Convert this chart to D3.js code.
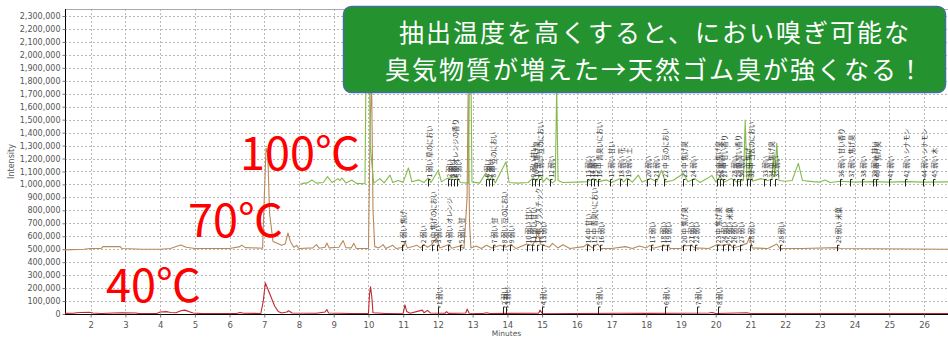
<!DOCTYPE html>
<html><head><meta charset="utf-8">
<script src="https://cdn.jsdelivr.net/npm/d3@7"></script>
<style>
html,body{margin:0;padding:0;background:#fff;}
svg{display:block;}
</style></head>
<body>
<svg id="chart" width="948" height="338"></svg>
<script>
// ---- data (intensity values in thousands) ----
const xTicks = [2,3,4,5,6,7,8,9,10,11,12,13,14,15,16,17,18,19,20,21,22,23,24,25,26];
const yTicks = [0,100,200,300,400,500,600,700,800,900,1000,1100,1200,1300,1400,1500,1600,1700,1800,1900,2000,2100,2200,2300];
const yTickLabels = ["0","100,000","200,000","300,000","400,000","500,000","600,000","700,000","800,000","900,000","1,000,000","1,100,000","1,200,000","1,300,000","1,400,000","1,500,000","1,600,000","1,700,000","1,800,000","1,900,000","2,000,000","2,100,000","2,200,000","2,300,000"];

// 100℃ trace
const t100 = [8.02,8.1,8.25,8.37,8.5,8.7,8.82,8.95,9.12,9.18,9.23,9.35,9.52,9.65,9.9,9.95,10.0,10.05,10.15,10.33,10.45,10.62,10.7,10.85,11.0,11.15,11.25,11.45,11.6,11.72,11.8,12.01,12.1,12.25,12.54,12.65,12.88,12.93,12.98,13.2,13.38,13.47,13.55,13.65,13.96,14.05,14.3,14.6,14.74,14.84,14.94,15.04,15.13,15.3,15.38,15.42,15.46,15.6,16.0,16.3,16.48,16.6,16.86,17.0,17.25,17.35,17.45,17.6,17.77,17.88,18.12,18.3,18.44,18.55,18.77,19.07,19.2,19.4,19.55,19.75,19.89,20.0,20.12,20.25,20.45,20.6,20.8,20.85,20.9,20.95,20.99,21.05,21.3,21.5,21.62,21.66,21.7,21.76,21.82,22.0,22.2,22.38,22.5,22.8,23.0,23.15,23.3,23.6,24.0,24.5,25.0,25.5,26.0,26.7];
const v100 = [1000,1008,1012,1034,1010,1015,1060,1015,1045,1030,1050,1012,1034,1008,1005,2500,2600,1300,1010,1045,1012,1072,1015,1030,1018,1127,1020,1035,1015,1050,1015,1110,1020,1045,1060,1015,1010,2500,1020,1010,1088,1030,1060,1012,1175,1015,1010,1015,1050,1025,1075,1020,1050,1012,1030,1750,1030,1015,1018,1022,1045,1020,1035,1015,1045,1020,1048,1018,1072,1018,1045,1020,1110,1020,1030,1085,1020,1045,1015,1045,1070,1020,1060,1018,1045,1020,1030,1497,1030,1040,1291,1025,1045,1030,1040,1214,1060,1317,1030,1025,1030,1163,1030,1022,1018,1035,1015,1025,1018,1022,1018,1022,1018,1020];

// 70℃ trace
const t70 = [1.26,1.8,2.0,2.3,2.35,2.85,2.9,3.5,4.0,4.3,4.5,4.6,4.75,5.0,6.0,6.3,6.35,6.45,6.95,7.0,7.05,7.1,7.15,7.25,7.35,7.5,7.6,7.68,7.75,7.85,7.93,8.0,8.4,8.5,8.58,8.75,8.8,8.87,9.15,9.27,9.35,9.5,9.58,9.65,10.0,10.05,10.09,10.13,10.18,10.3,10.42,10.5,10.7,10.8,11.0,11.05,11.12,11.4,11.5,11.6,11.7,11.8,11.96,12.05,12.3,12.4,12.63,12.75,12.84,12.87,12.91,12.95,13.1,13.25,13.4,13.55,13.8,13.95,14.1,14.25,14.56,14.7,14.8,14.88,14.95,15.1,15.2,15.3,15.45,15.6,15.8,16.2,16.3,16.45,16.6,16.7,17.0,17.4,17.6,17.8,18.0,18.1,18.2,18.45,18.6,18.7,19.0,19.07,19.3,19.4,19.8,20.03,20.2,20.4,20.5,20.7,20.9,20.98,21.05,21.5,21.76,21.85,22.5,23.5,23.6,26.7];
const v70 = [495,500,505,505,520,520,505,500,500,505,525,532,515,505,505,520,532,512,508,900,1280,1240,780,560,548,530,540,625,560,515,530,505,510,535,508,515,548,510,515,566,512,510,545,505,505,1500,1800,800,520,510,535,505,530,505,515,558,510,530,510,535,515,530,586,510,535,508,525,505,900,1700,700,510,525,505,530,510,530,515,535,505,540,530,560,650,540,525,515,545,510,535,505,520,540,510,540,505,505,520,505,525,510,530,508,525,530,505,505,525,530,510,505,535,530,540,510,525,545,597,510,505,540,505,505,512,505,500];

// 40℃ trace
const t40 = [1.26,1.5,1.6,1.75,1.95,2.07,2.3,2.65,2.9,3.3,3.4,3.9,4.0,4.2,4.3,4.45,4.6,4.7,4.8,4.95,5.2,5.5,6.2,6.3,6.4,6.9,6.97,7.03,7.15,7.3,7.4,7.5,7.65,7.7,7.8,8.5,8.75,8.8,8.85,9.5,10.0,10.03,10.06,10.1,10.13,10.5,11.0,11.05,11.1,11.2,11.55,11.6,11.7,11.78,12.2,12.25,12.3,12.8,12.84,12.9,13.3,13.4,13.5,14.9,14.94,15.0,16.0,17.2,18.0,19.8,19.9,20.0,20.9,21.0,26.7];
const v40 = [5,6,10,12,14,8,4,8,9,8,3,4,15,18,12,10,25,30,22,8,3,4,4,12,6,4,100,240,160,60,20,8,15,25,8,6,15,35,8,4,5,150,210,120,10,4,6,70,20,6,30,10,28,8,6,18,5,8,38,6,4,10,4,6,30,6,4,6,5,8,12,4,10,4,4];

// peak annotations: [minutes, label]
const ann100 = [[11.72,"1 弱い 草のにおい"],[12.30,"2 弱い"],[12.38,"3 弱い"],[12.47,"4 中 オレンジの香り"],[12.56,"5 弱い"],[13.38,"6 弱い"],[13.47,"7 弱い"],[13.56,"8 中 豆のにおい"],[14.70,"9 弱い 甘い"],[14.80,"10 中 焦げ臭"],[14.90,"11 弱い 豆のにおい"],[15.22,"12 弱い"],[16.30,"13 弱い"],[16.40,"14 弱い"],[16.50,"15 中"],[16.62,"16 中 青臭いにおい"],[16.95,"17 弱い 甘い"],[17.25,"18 弱い 花"],[17.45,"19 弱い 土"],[18.01,"20 弱い"],[18.25,"21 弱い"],[18.50,"22 中 豆のにおい"],[19.07,"23 中 焦げ臭"],[19.33,"24 弱い"],[20.03,"25 中 焦げ臭"],[20.12,"26 弱い"],[20.22,"27 中 甘い香り"],[20.50,"28 弱い"],[20.60,"29 中 甘い香り"],[20.70,"30 弱い"],[20.90,"31 中 焦げ"],[21.00,"32 中 ゴムのにおい"],[21.40,"33 弱い"],[21.55,"34 中 焦げ臭"],[21.70,"35 弱い"],[23.58,"36 弱い 甘い香り"],[23.87,"37 弱い 焦げ臭"],[24.20,"38 弱い"],[24.53,"39 弱い 甘い"],[24.62,"40 中 焦げ臭"],[25.00,"41 弱い"],[25.45,"42 弱い シナモン"],[25.97,"44 弱い シナモン"],[26.26,"45 弱い 木"]];
const ann70 = [[10.96,"1 弱い 焦げ"],[11.53,"2 弱い"],[11.82,"3 中 焦げのにおい"],[11.97,"3 弱い"],[12.30,"4 弱い オレンジ"],[12.64,"5 弱い 甘"],[13.60,"7 弱い 甘"],[13.88,"8 弱い 豆のにおい"],[14.08,"9 弱い"],[14.56,"10 弱い 甘い"],[14.70,"11 弱い 甘い"],[14.85,"12 中 プラスチック"],[14.99,"13 弱い"],[16.29,"14 中 甘い"],[16.48,"15 中 青臭いにおい"],[16.68,"16 弱い"],[18.15,"17 弱い"],[18.44,"18 弱い"],[18.59,"19 弱い"],[19.07,"20 中 焦げ臭"],[19.26,"21 弱い"],[19.40,"22 弱い"],[20.03,"23 中 焦げ臭"],[20.22,"24 弱い"],[20.36,"25 弱い 米菓"],[20.50,"26 弱い"],[20.70,"27 弱い"],[20.98,"28 弱い"],[21.85,"28 弱い"],[23.49,"29 弱い 米菓"]];
const ann40 = [[12.00,"1 弱い"],[13.87,"2 弱い"],[13.95,"3 弱い"],[14.99,"4 弱い"],[16.60,"5 弱い"],[18.54,"6 弱い"],[19.46,"7 弱い"],[20.07,"8 弱い"]];

const titleLines = ["抽出温度を高くすると、におい嗅ぎ可能な","臭気物質が増えた→天然ゴム臭が強くなる！"];
const tempLabels = ["100℃","70℃","40℃"];

// ---- layout ----
const L = 65, R = 948, T = 9, B = 314;
const svg = d3.select("#chart");
const x = d3.scaleLinear().domain([1.26, 26.69]).range([L, R]);
const y = d3.scaleLinear().domain([0, 2300000]).range([B, 16]);

svg.append("defs").append("clipPath").attr("id","plotclip")
  .append("rect").attr("x",L).attr("y",T).attr("width",R-L).attr("height",B-T);

// grid
const grid = svg.append("g");
grid.selectAll(".hg").data(yTicks.slice(1)).join("line")
  .attr("x1",L).attr("x2",R).attr("y1",d=>Math.round(y(d*1000))+0.5).attr("y2",d=>Math.round(y(d*1000))+0.5)
  .attr("stroke","#b8b8b8").attr("stroke-width",1).attr("stroke-dasharray","2,2");
grid.selectAll(".vg").data(xTicks).join("line")
  .attr("x1",d=>Math.round(x(d))+0.5).attr("x2",d=>Math.round(x(d))+0.5).attr("y1",T).attr("y2",B)
  .attr("stroke","#b8b8b8").attr("stroke-width",1).attr("stroke-dasharray","2,2");
svg.append("line").attr("x1",L).attr("x2",R).attr("y1",T+0.5).attr("y2",T+0.5).attr("stroke","#aaa");

// axes
const yAxis = d3.axisLeft(y).tickValues(yTicks.map(d=>d*1000)).tickFormat((d,i)=>yTickLabels[i]).tickSize(3).tickPadding(2);
const gy = svg.append("g").attr("transform",`translate(${L+0.5},0)`).call(yAxis);
gy.select(".domain").attr("stroke","#000").attr("d",`M0,${T}V${B}`);
gy.selectAll(".tick line").attr("stroke","#777");
gy.selectAll("text").attr("font-family","DejaVu Sans, Verdana, sans-serif").attr("font-size","8px").attr("fill","#555");

const xAxis = d3.axisBottom(x).tickValues(xTicks).tickFormat(d=>d).tickSize(3).tickPadding(4);
const gx = svg.append("g").attr("transform",`translate(0,${B+0.5})`).call(xAxis);
gx.select(".domain").attr("stroke","#000").attr("d",`M${L},0H${R}`);
gx.selectAll(".tick line").attr("stroke","#777");
gx.selectAll("text").attr("font-family","DejaVu Sans, Verdana, sans-serif").attr("font-size","8.5px").attr("fill","#555");

svg.append("text").attr("x",(L+R)/2).attr("y",336).attr("text-anchor","middle")
  .attr("font-family","DejaVu Sans, Verdana, sans-serif").attr("font-size","7.5px").attr("fill","#555").text("Minutes");
svg.append("text").attr("transform",`translate(14,${(T+B)/2}) rotate(-90)`).attr("text-anchor","middle")
  .attr("font-family","DejaVu Sans, Verdana, sans-serif").attr("font-size","8px").attr("fill","#555").text("Intensity");

// traces
const plot = svg.append("g").attr("clip-path","url(#plotclip)");
const line = d3.line().x(d=>x(d[0])).y(d=>y(d[1]*1000));
const traces = [
  {t:t40, v:v40, color:"#c0282e"},
  {t:t70, v:v70, color:"#b9895a"},
  {t:t100, v:v100, color:"#86bb4c"}
];
traces.forEach(tr=>{
  plot.append("path").datum(d3.zip(tr.t, tr.v)).attr("d",line)
    .attr("fill","none").attr("stroke",tr.color).attr("stroke-width",1.1).attr("stroke-linejoin","round");
});

// annotations
function drawAnn(arr, baseK, markerTop, textBottom){
  const g = plot.append("g");
  arr.forEach(a=>{
    const xx = Math.round(x(a[0]))+0.5;
    const yb = y(baseK*1000);
    g.append("path").attr("d",`M${xx},${yb+2}V${yb-markerTop}h2`)
      .attr("fill","none").attr("stroke","#222").attr("stroke-width",1);
    g.append("text").attr("transform",`translate(${xx+1},${yb-textBottom}) rotate(-90)`)
      .attr("dy","0.35em").attr("font-family","Noto Sans CJK JP, sans-serif").attr("font-size","6.5px")
      .attr("fill","#333").text(a[1]);
  });
}
drawAnn(ann100, 1000, 5, 7);
drawAnn(ann70, 500, 4, 6);
drawAnn(ann40, 0, 7, 9);

// temperature labels
const posLab = [[240,170],[188,237],[106,302]];
svg.selectAll(".temp").data(tempLabels).join("text")
  .attr("x",(d,i)=>posLab[i][0]).attr("y",(d,i)=>posLab[i][1])
  .attr("font-family","Noto Sans CJK JP, sans-serif").attr("font-size","45px").attr("fill","#ff0000")
  .text(d=>d);

// title box
svg.append("rect").attr("x",343.5).attr("y",6.5).attr("width",602).attr("height",86).attr("rx",8)
  .attr("fill","#23922f").attr("stroke","#41719c").attr("stroke-width",1.5);
svg.selectAll(".title").data(titleLines).join("text")
  .attr("x",655).attr("y",(d,i)=>31+i*37).attr("text-anchor","middle").attr("dominant-baseline","central")
  .attr("font-family","Noto Sans CJK JP, sans-serif").attr("font-size","25px").attr("letter-spacing","2px").attr("fill","#fff")
  .text(d=>d);
</script>
</body></html>
